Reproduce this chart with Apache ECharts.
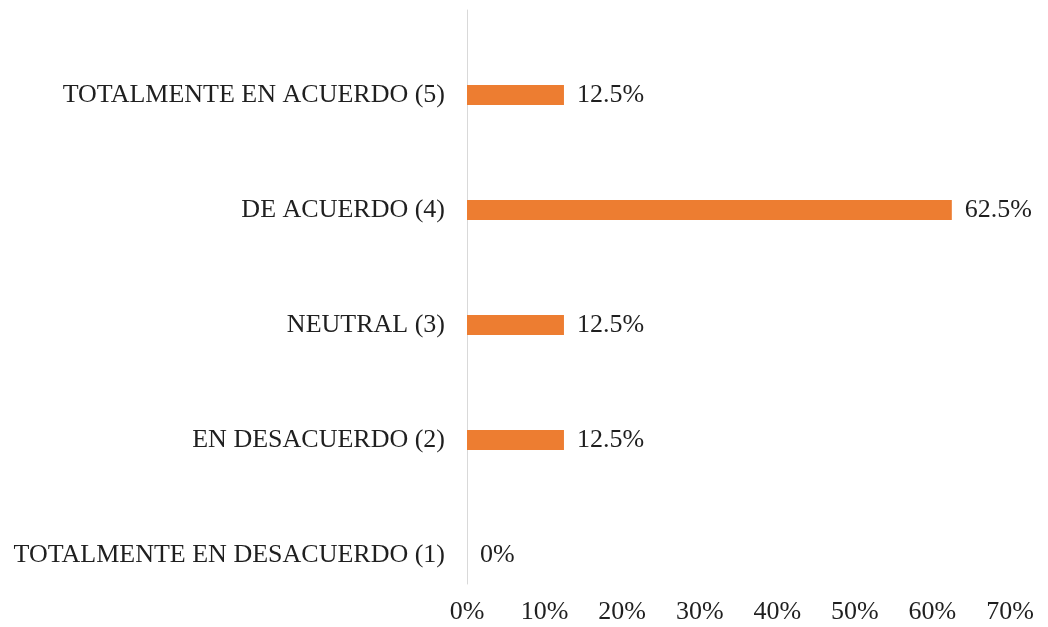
<!DOCTYPE html>
<html>
<head>
<meta charset="utf-8">
<script src="https://cdn.jsdelivr.net/npm/echarts@6/dist/echarts.min.js"></script>
<style>
  html, body { margin: 0; padding: 0; background: #fff; }
  #chart { width: 1048px; height: 627px; }
</style>
</head>
<body>
<div id="chart"></div>
<script>
// categorias (de abajo hacia arriba, como las dibuja echarts)
const categories = [
  'TOTALMENTE EN DESACUERDO (1)',
  'EN DESACUERDO (2)',
  'NEUTRAL (3)',
  'DE ACUERDO (4)',
  'TOTALMENTE EN ACUERDO (5)'
]
// porcentajes
const percentages = [0, 12.5, 12.5, 62.5, 12.5]
// eje x
const axisMin = 0
const axisMax = 70
const axisStep = 10

const font = '"Liberation Serif", "Times New Roman", serif'
const textColor = '#1f1f1f'
const fontSize = 26

const chart = echarts.init(document.getElementById('chart'))

const options = {
  animation: false,
  textStyle: { fontFamily: font },
  grid: [
    // grid principal con las barras
    { left: 467, right: 38, top: 37.5, bottom: 14.5 },
    // solo para la linea vertical del eje
    { left: 467, right: 38, top: 10, bottom: 43 }
  ],
  xAxis: [
    {
      gridIndex: 0,
      type: 'value',
      min: axisMin,
      max: axisMax,
      interval: axisStep,
      axisLine: { show: false },
      axisTick: { show: false },
      splitLine: { show: false },
      axisLabel: {
        formatter: '{value}%',
        margin: 0,
        verticalAlign: 'middle',
        fontFamily: font,
        fontSize: fontSize,
        color: textColor
      }
    },
    {
      gridIndex: 1,
      type: 'value',
      min: axisMin,
      max: axisMax,
      show: false
    }
  ],
  yAxis: [
    {
      gridIndex: 0,
      type: 'category',
      data: categories,
      axisLine: { show: false },
      axisTick: { show: false },
      axisLabel: {
        margin: 22,
        padding: [4, 0, 0, 0],
        fontFamily: font,
        fontSize: fontSize,
        color: textColor
      }
    },
    {
      gridIndex: 1,
      type: 'category',
      data: categories,
      axisLine: { show: true, lineStyle: { color: '#d9d9d9', width: 1 } },
      axisTick: { show: false },
      axisLabel: { show: false }
    }
  ],
  series: [
    {
      type: 'bar',
      xAxisIndex: 0,
      yAxisIndex: 0,
      data: percentages,
      barWidth: 20,
      itemStyle: { color: '#ED7D31' },
      label: {
        show: true,
        position: 'right',
        distance: 13,
        padding: [4, 0, 0, 0],
        formatter: (p) => p.value + '%',
        fontFamily: font,
        fontSize: fontSize,
        color: textColor
      }
    }
  ]
}

chart.setOption(options)
</script>
</body>
</html>
